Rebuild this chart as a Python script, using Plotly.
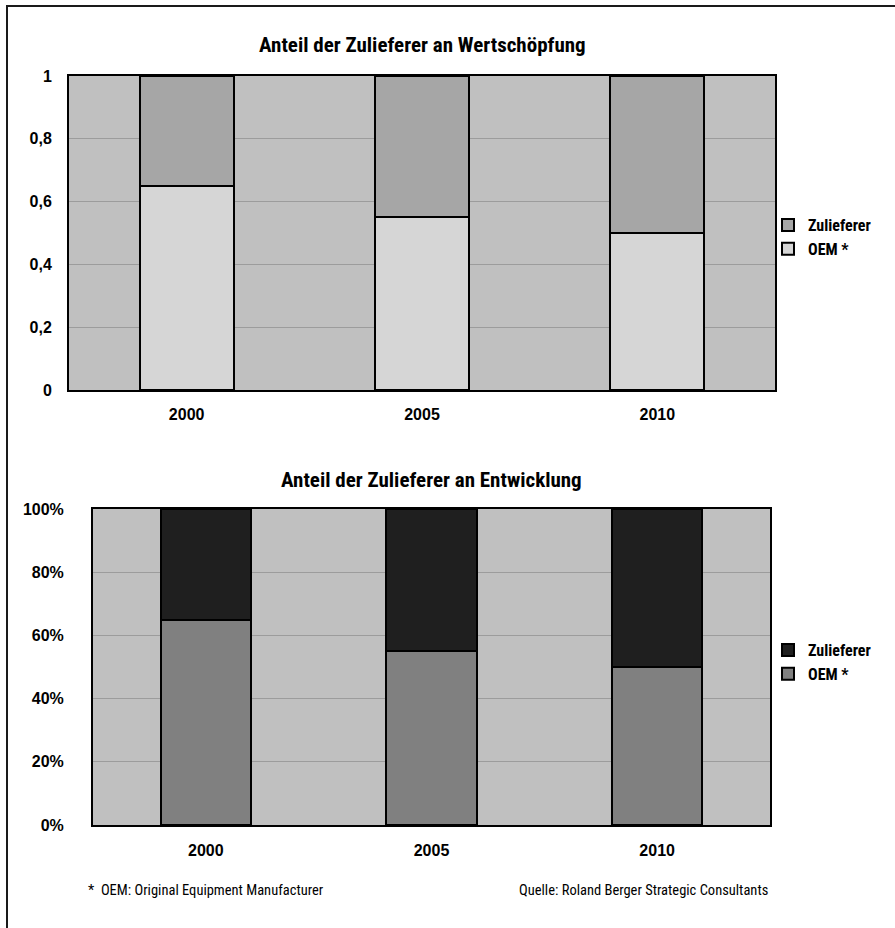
import plotly.graph_objects as go

# Data
years = ["2000", "2005", "2010"]
oem_wert = [0.65, 0.55, 0.50]
zul_wert = [0.35, 0.45, 0.50]
oem_entw = [0.65, 0.55, 0.50]
zul_entw = [0.35, 0.45, 0.50]

W, H = 895, 928
NARROW = "Liberation Sans Narrow, Arial Narrow, Roboto Condensed, sans-serif"
SANS = "Liberation Sans, Arial, Helvetica, sans-serif"


def px(x):
    return x / W


def py(y):
    return 1 - y / H


fig = go.Figure()

bar_line = dict(color="black", width=2)

# Upper chart: value creation
fig.add_trace(go.Bar(x=years, y=oem_wert, name="OEM *", marker=dict(color="#d6d6d6", line=bar_line),
                     width=0.4, xaxis="x", yaxis="y", legend="legend"))
fig.add_trace(go.Bar(x=years, y=zul_wert, name="Zulieferer", marker=dict(color="#a6a6a6", line=bar_line),
                     width=0.4, xaxis="x", yaxis="y", legend="legend"))

# Lower chart: development
fig.add_trace(go.Bar(x=years, y=oem_entw, name="OEM *", marker=dict(color="#808080", line=bar_line),
                     width=0.4, xaxis="x2", yaxis="y2", legend="legend2"))
fig.add_trace(go.Bar(x=years, y=zul_entw, name="Zulieferer", marker=dict(color="#1f1f1f", line=bar_line),
                     width=0.4, xaxis="x2", yaxis="y2", legend="legend2"))

axis_common = dict(showline=True, linecolor="black", linewidth=2, mirror=True,
                   automargin=False, fixedrange=True)
tickfont = dict(family=SANS, size=16, color="black", weight="bold")

x1 = [69, 775]
y1 = [76, 390]
x2 = [93, 770]
y2 = [509, 825]

legend_common = dict(font=dict(family=NARROW, size=16, color="black", weight="bold"),
                     bgcolor="rgba(0,0,0,0)", itemwidth=30, tracegroupgap=0,
                     xanchor="left", yanchor="top", traceorder="reversed")

fig.update_layout(
    width=W, height=H,
    margin=dict(l=0, r=0, t=0, b=0),
    template="none",
    paper_bgcolor="white",
    plot_bgcolor="#c0c0c0",
    barmode="stack",
    separators=",.",
    showlegend=True,
    xaxis=dict(type="category", domain=[px(x1[0]), px(x1[1])], anchor="y", tickfont=tickfont,
               ticks="outside", ticklen=9, tickcolor="rgba(0,0,0,0)", **axis_common),
    yaxis=dict(domain=[py(y1[1]), py(y1[0])], anchor="x", range=[0, 1], dtick=0.2,
               tickformat=".1~f", tickfont=tickfont, showgrid=True, gridcolor="#9c9c9c", gridwidth=1,
               zeroline=False, ticks="outside", ticklen=12, tickcolor="rgba(0,0,0,0)", **axis_common),
    xaxis2=dict(type="category", domain=[px(x2[0]), px(x2[1])], anchor="y2", tickfont=tickfont,
                ticks="outside", ticklen=10, tickcolor="rgba(0,0,0,0)", **axis_common),
    yaxis2=dict(domain=[py(y2[1]), py(y2[0])], anchor="x2", range=[0, 1], dtick=0.2,
                tickformat=".0%", tickfont=tickfont, showgrid=True, gridcolor="#9c9c9c", gridwidth=1,
                zeroline=False, ticks="outside", ticklen=24, tickcolor="rgba(0,0,0,0)", **axis_common),
    legend=dict(x=px(768), y=py(208), **legend_common),
    legend2=dict(x=px(768), y=py(633), **legend_common),
)

title_font = dict(family=NARROW, size=21, color="black", weight="bold")
foot_font = dict(family=NARROW, size=14.5, color="black")

fig.add_annotation(text="Anteil der Zulieferer an Wertschöpfung", x=px((x1[0] + x1[1]) / 2), y=py(45),
                   xref="paper", yref="paper", showarrow=False, font=title_font, xanchor="center", yanchor="middle")
fig.add_annotation(text="Anteil der Zulieferer an Entwicklung", x=px((x2[0] + x2[1]) / 2), y=py(480),
                   xref="paper", yref="paper", showarrow=False, font=title_font, xanchor="center", yanchor="middle")
fig.add_annotation(text="*  OEM: Original Equipment Manufacturer", x=px(86), y=py(890),
                   xref="paper", yref="paper", showarrow=False, font=foot_font, xanchor="left", yanchor="middle")
fig.add_annotation(text="Quelle: Roland Berger Strategic Consultants", x=px(770), y=py(890),
                   xref="paper", yref="paper", showarrow=False, font=foot_font, xanchor="right", yanchor="middle")

# Outer frame
fig.add_shape(type="rect", xref="paper", yref="paper", x0=px(7), y0=-0.02, x1=1.02, y1=py(6),
              line=dict(color="#1a1a1a", width=2), fillcolor="rgba(0,0,0,0)", layer="above")

fig.write_html("out.html")
